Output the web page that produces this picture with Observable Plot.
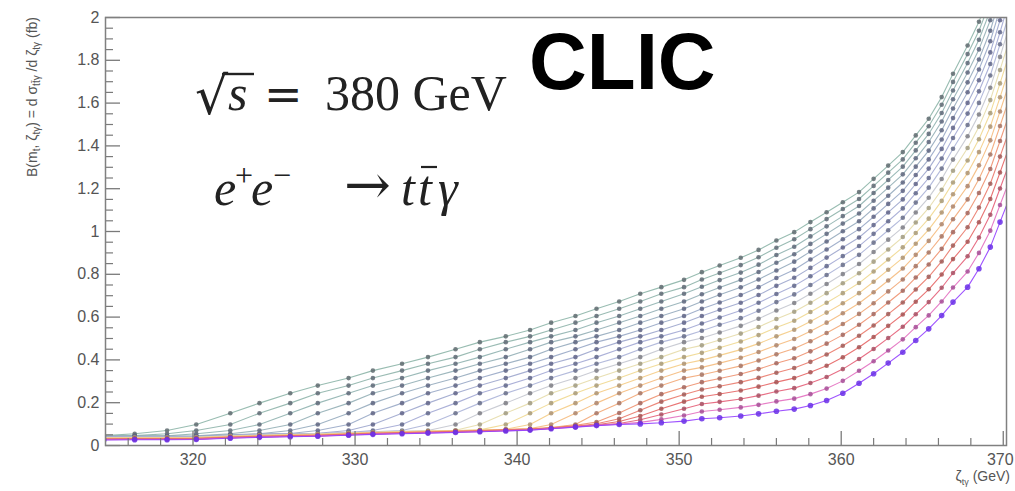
<!DOCTYPE html>
<html><head><meta charset="utf-8">
<script src="https://cdn.jsdelivr.net/npm/d3@7"></script>
<script src="https://cdn.jsdelivr.net/npm/@observablehq/plot@0.6"></script>
<style>html,body{margin:0;padding:0;background:#fff;} #chart{position:relative;width:1015px;height:491px;overflow:hidden;}</style>
</head><body><div id="chart"></div>
<script>
// x grid shared by all curves (zeta_t-gamma, GeV)
const zeta = [314.5,316.4,318.4,320.2,322.3,324.1,326.0,327.7,329.6,331.1,332.9,334.5,336.2,337.7,339.3,340.8,342.1,343.6,344.9,346.3,347.6,348.9,350.3,351.4,352.5,353.8,354.9,356.0,357.1,358.1,359.1,360.1,361.1,362.0,362.9,363.8,364.6,365.4,366.2,366.9,367.8,368.5,369.2,369.8,370.4];

// B(m_t, zeta) values (fb), one array per curve, top curve first
const curve01 = [.046,.055,.070,.098,.151,.198,.244,.280,.315,.350,.382,.413,.450,.483,.510,.540,.574,.605,.639,.673,.709,.740,.774,.810,.841,.877,.914,.958,.997,1.044,1.090,1.137,1.184,1.246,1.308,1.371,1.449,1.527,1.628,1.737,1.869,1.980,2.120,2.280,2.450];
const curve02 = [.045,.046,.055,.070,.098,.151,.198,.244,.280,.315,.350,.382,.413,.450,.483,.510,.540,.574,.605,.639,.673,.709,.740,.776,.806,.843,.880,.924,.964,1.011,1.058,1.105,1.152,1.213,1.275,1.337,1.415,1.492,1.592,1.699,1.829,1.938,2.077,2.236,2.404];
const curve03 = [.044,.045,.045,.055,.070,.098,.151,.198,.244,.280,.315,.350,.382,.413,.450,.483,.510,.540,.574,.605,.639,.673,.709,.742,.773,.808,.845,.890,.929,.977,1.024,1.072,1.119,1.180,1.241,1.303,1.379,1.456,1.554,1.659,1.787,1.896,2.033,2.189,2.356];
const curve04 = [.043,.044,.044,.045,.055,.070,.098,.151,.198,.244,.280,.315,.350,.382,.413,.450,.483,.510,.540,.574,.605,.639,.673,.707,.738,.774,.811,.854,.894,.942,.989,1.037,1.084,1.144,1.205,1.267,1.342,1.418,1.514,1.618,1.743,1.851,1.987,2.142,2.306];
const curve05 = [.042,.043,.043,.044,.050,.055,.070,.098,.151,.198,.244,.280,.315,.350,.382,.413,.450,.483,.510,.540,.574,.605,.639,.673,.704,.739,.776,.818,.859,.906,.953,1.001,1.048,1.108,1.167,1.229,1.303,1.378,1.473,1.575,1.697,1.804,1.938,2.092,2.254];
const curve06 = [.041,.042,.042,.043,.049,.053,.056,.070,.098,.151,.198,.244,.280,.315,.350,.382,.413,.450,.483,.510,.540,.574,.605,.639,.668,.703,.740,.783,.821,.869,.916,.964,1.011,1.069,1.129,1.190,1.264,1.337,1.430,1.530,1.651,1.757,1.889,2.041,2.201];
const curve07 = [.040,.041,.041,.042,.048,.052,.055,.057,.070,.098,.151,.198,.244,.280,.315,.350,.382,.413,.450,.483,.510,.540,.574,.605,.634,.667,.703,.746,.784,.830,.878,.925,.972,1.030,1.089,1.150,1.222,1.294,1.386,1.484,1.601,1.707,1.837,1.987,2.144];
const curve08 = [.039,.040,.040,.041,.047,.051,.054,.056,.061,.070,.098,.151,.198,.244,.280,.315,.350,.382,.413,.450,.483,.510,.540,.570,.598,.631,.667,.708,.746,.791,.838,.885,.932,.989,1.048,1.108,1.179,1.250,1.341,1.437,1.551,1.655,1.783,1.931,2.087];
const curve09 = [.038,.039,.039,.040,.046,.050,.053,.055,.060,.064,.070,.098,.151,.198,.244,.280,.315,.350,.382,.413,.450,.483,.510,.536,.564,.595,.630,.670,.706,.750,.797,.844,.891,.948,1.006,1.064,1.135,1.205,1.294,1.387,1.498,1.601,1.729,1.875,2.027];
const curve10 = [.037,.038,.038,.039,.045,.049,.052,.054,.059,.063,.066,.070,.098,.151,.198,.244,.280,.315,.350,.382,.413,.450,.483,.502,.528,.559,.592,.631,.666,.709,.755,.801,.848,.904,.962,1.019,1.089,1.158,1.245,1.336,1.445,1.547,1.672,1.816,1.966];
const curve11 = [.036,.037,.037,.038,.044,.048,.051,.053,.058,.062,.065,.068,.071,.098,.151,.198,.244,.280,.315,.350,.382,.413,.450,.468,.493,.523,.554,.591,.625,.667,.712,.758,.805,.859,.916,.974,1.042,1.110,1.195,1.284,1.390,1.490,1.614,1.755,1.902];
const curve12 = [.035,.036,.036,.037,.043,.047,.050,.052,.057,.061,.064,.067,.070,.073,.098,.151,.198,.244,.280,.315,.350,.382,.413,.433,.457,.486,.516,.551,.583,.624,.667,.712,.759,.813,.869,.926,.993,1.060,1.143,1.229,1.332,1.431,1.553,1.692,1.837];
const curve13 = [.034,.035,.035,.036,.042,.046,.049,.051,.056,.060,.063,.066,.069,.072,.076,.098,.151,.198,.244,.280,.315,.350,.382,.399,.421,.448,.476,.510,.541,.579,.621,.665,.712,.765,.821,.877,.943,1.009,1.089,1.174,1.273,1.371,1.490,1.627,1.769];
const curve14 = [.033,.034,.034,.035,.041,.045,.048,.050,.055,.059,.062,.065,.068,.071,.075,.079,.098,.151,.198,.244,.280,.315,.350,.365,.385,.410,.437,.468,.498,.534,.574,.618,.665,.716,.771,.827,.891,.956,1.034,1.117,1.212,1.309,1.426,1.561,1.700];
const curve15 = [.032,.033,.033,.034,.040,.044,.047,.049,.054,.058,.061,.064,.067,.070,.074,.078,.084,.098,.151,.198,.244,.280,.315,.331,.349,.372,.397,.426,.453,.487,.526,.568,.615,.665,.720,.776,.838,.902,.977,1.057,1.150,1.245,1.360,1.493,1.629];
const curve16 = [.031,.032,.032,.033,.039,.043,.046,.048,.053,.057,.060,.063,.066,.069,.073,.077,.083,.094,.110,.152,.198,.240,.272,.296,.313,.334,.357,.384,.408,.440,.476,.517,.564,.614,.668,.723,.785,.846,.919,.997,1.086,1.180,1.292,1.423,1.556];
const curve17 = [.030,.031,.031,.032,.038,.042,.045,.047,.052,.056,.059,.062,.065,.068,.072,.076,.082,.090,.102,.125,.165,.205,.238,.262,.277,.296,.316,.340,.362,.391,.425,.466,.513,.561,.614,.668,.729,.788,.860,.934,1.020,1.112,1.223,1.350,1.480];
const curve18 = [.029,.030,.030,.031,.037,.041,.044,.046,.051,.055,.058,.061,.064,.067,.071,.075,.081,.089,.097,.112,.138,.172,.205,.228,.241,.257,.275,.296,.315,.342,.373,.412,.459,.507,.559,.612,.672,.730,.799,.871,.952,1.043,1.152,1.276,1.403];
const curve19 = [.028,.029,.029,.030,.036,.040,.043,.045,.050,.054,.057,.060,.063,.066,.070,.074,.080,.088,.095,.103,.120,.145,.172,.194,.204,.217,.233,.252,.268,.292,.320,.357,.404,.451,.502,.555,.613,.670,.737,.806,.884,.972,1.078,1.201,1.324];
const curve20 = [.027,.028,.028,.029,.035,.039,.042,.044,.049,.053,.056,.059,.062,.065,.069,.073,.079,.087,.094,.100,.108,.122,.140,.159,.167,.178,.190,.206,.219,.240,.266,.302,.349,.394,.444,.496,.553,.608,.673,.738,.813,.900,1.004,1.124,1.243];
const curve21 = [.026,.027,.027,.028,.034,.038,.041,.043,.048,.052,.055,.058,.061,.064,.068,.072,.078,.086,.093,.098,.101,.106,.114,.125,.130,.138,.148,.160,.170,.187,.210,.244,.291,.335,.385,.436,.491,.545,.607,.670,.740,.826,.927,1.044,1.160];

// axis ticks and labels
const yMajorTicks = [0,0.2,0.4,0.6,0.8,1,1.2,1.4,1.6,1.8,2];
const yTickLabels = ["0","0.2","0.4","0.6","0.8","1","1.2","1.4","1.6","1.8","2"];
const yMinorTicks = [0.05,0.1,0.15,0.25,0.3,0.35,0.45,0.5,0.55,0.65,0.7,0.75,0.85,0.9,0.95,1.05,1.1,1.15,1.25,1.3,1.35,1.45,1.5,1.55,1.65,1.7,1.75,1.85,1.9,1.95];
const xMajorTicks = [320,330,340,350,360,370];
const xTickLabels = ["320","330","340","350","360","370"];
const xMinorTicks = [316,318,322,324,326,328,332,334,336,338,342,344,346,348,352,354,356,358,362,364,366,368];

const curves = [curve01,curve02,curve03,curve04,curve05,curve06,curve07,curve08,curve09,curve10,curve11,curve12,curve13,curve14,curve15,curve16,curve17,curve18,curve19,curve20,curve21];

// styles
const lineColors = ["#8db5a8","#8fb4ab","#90b2b0","#93afb6","#96abbe","#99a8c6","#9da6cd","#a3a9d4","#acb4d8","#c4c6cf","#e6dcaa","#f0d890","#f5cc85","#f5bb7e","#f2a777","#ee9170","#ea7a6b","#e56565","#e45f78","#e36fc0","#9440ff"];
const dotColors = ["#5f6b70","#5f6a74","#5e6878","#5e667c","#5e6580","#5f6484","#606488","#62678a","#676d88","#7c7d84","#a09a80","#a89a78","#ad9372","#ad856c","#a67464","#a2665e","#a05c58","#a65454","#a85064","#a64e96","#6a2fe8"];

const W = 1015, H = 491, mL = 105, mR = 9, mT = 17, mB = 46;
const xDom = [314.6, 370.2], yDom = [0, 2];
const xPerPx = (xDom[1] - xDom[0]) / (W - mL - mR);
const yPerPx = (yDom[1] - yDom[0]) / (H - mT - mB);

const marks = [];
curves.forEach((vals, k) => {
  const rows = zeta.map((z, j) => ({zeta: z, value: vals[j]}));
  marks.push(Plot.line(rows, {x: "zeta", y: "value", stroke: lineColors[k], strokeWidth: 1.1, strokeOpacity: 0.9, clip: true}));
  marks.push(Plot.dot(rows, {x: "zeta", y: "value", r: k === 20 ? 2.8 : 2.3, fill: dotColors[k], fillOpacity: 0.85, stroke: "none", clip: true}));
});
const tickColor = "#7a7a7a";
const lastX = xMajorTicks.length - 1;
marks.push(
  Plot.ruleY(yMinorTicks, {y: d => d, x1: xDom[0], x2: xDom[0] + 8 * xPerPx, stroke: tickColor, strokeWidth: 1.2}),
  Plot.ruleY(yMajorTicks, {y: d => d, x1: xDom[0], x2: xDom[0] + 15 * xPerPx, stroke: tickColor, strokeWidth: 1.3}),
  Plot.ruleX(xMinorTicks, {x: d => d, y1: 0, y2: 7 * yPerPx, stroke: tickColor, strokeWidth: 1.2}),
  Plot.ruleX(xMajorTicks, {x: d => d, y1: 0, y2: 14 * yPerPx, stroke: tickColor, strokeWidth: 1.3}),
  Plot.text(yMajorTicks, {x: xDom[0], y: d => d, text: (d, i) => yTickLabels[i], textAnchor: "end", dx: -6, fontSize: 16, fill: "#555"}),
  Plot.text(xMajorTicks.slice(0, lastX), {x: d => d, y: yDom[0], text: (d, i) => xTickLabels[i], dy: 14, fontSize: 16, fill: "#555"}),
  Plot.text(xMajorTicks.slice(lastX), {x: d => d, y: yDom[0], text: () => xTickLabels[lastX], dy: 14, dx: -3, fontSize: 16, fill: "#555"}),
  Plot.frame({stroke: "#808080", strokeWidth: 1.5})
);

const plot = Plot.plot({
  width: W, height: H,
  marginLeft: mL, marginRight: mR, marginTop: mT, marginBottom: mB,
  x: {domain: xDom, axis: null},
  y: {domain: yDom, axis: null},
  style: {background: "#fff", fontFamily: "Liberation Sans, Arial, sans-serif", overflow: "visible"},
  marks
});
document.getElementById("chart").appendChild(plot);

// annotations
const svg = d3.select(plot);
const g = svg.append("g").attr("text-anchor", "start");
const serif = "Liberation Serif, 'Times New Roman', serif";
const ink = "#222";

// CLIC
g.append("text").attr("x", 529).attr("y", 89).attr("text-anchor", "start")
  .attr("font-family", "Liberation Sans, Arial, sans-serif").attr("font-weight", "bold")
  .attr("font-size", 80).attr("fill", "#000").text("CLIC");

// sqrt(s) = 380 GeV
const tx = (x, y, s, txt, fam, italic) => g.append("text").attr("x", x).attr("y", y).attr("text-anchor", "start")
  .attr("font-family", fam).attr("font-style", italic ? "italic" : "normal")
  .attr("font-size", s).attr("fill", ink).text(txt);
tx(195, 114, 52, "√", "DejaVu Serif, serif", false);
g.append("line").attr("x1", 222).attr("x2", 254).attr("y1", 74).attr("y2", 74)
  .attr("stroke", ink).attr("stroke-width", 2.4);
tx(228, 110, 50, "s", serif, true);
tx(264, 110, 46, "=", "DejaVu Serif, serif", false);
tx(325, 110, 50, "380 GeV", serif, false);

// e+ e- -> t tbar gamma
tx(214, 205, 50, "e", serif, true);
tx(235, 186, 32, "+", serif, false);
tx(251, 205, 50, "e", serif, true);
tx(273, 186, 32, "−", serif, false);
tx(344, 204, 56, "→", "DejaVu Serif, serif", false);
tx(401, 205, 50, "t", serif, true);
tx(418, 205, 50, "t", serif, true);
g.append("line").attr("x1", 421).attr("x2", 437).attr("y1", 167).attr("y2", 167).attr("stroke", ink).attr("stroke-width", 2.2);
tx(438, 205, 50, "γ", serif, true);

// y-axis title (rotated)
const yt = g.append("text").attr("transform", "translate(37,17) rotate(-90)").attr("text-anchor", "end")
  .attr("font-family", "Liberation Sans, Arial, sans-serif").attr("font-size", 14).attr("fill", "#555");
yt.append("tspan").text("B(m");
yt.append("tspan").attr("font-size", 10).attr("dy", 3).text("t");
yt.append("tspan").attr("dy", -3).text(", ζ");
yt.append("tspan").attr("font-size", 10).attr("dy", 3).text("tγ");
yt.append("tspan").attr("dy", -3).text(") = d σ");
yt.append("tspan").attr("font-size", 10).attr("dy", 3).text("tt̄γ");
yt.append("tspan").attr("dy", -3).text(" /d ζ");
yt.append("tspan").attr("font-size", 10).attr("dy", 3).text("tγ");
yt.append("tspan").attr("dy", -3).text(" (fb)");

// x-axis title
const xt = g.append("text").attr("x", 1010).attr("y", 481).attr("text-anchor", "end")
  .attr("font-family", "Liberation Sans, Arial, sans-serif").attr("font-size", 14).attr("fill", "#555");
xt.append("tspan").text("ζ");
xt.append("tspan").attr("font-size", 9).attr("dy", 4).text("tγ");
xt.append("tspan").attr("dy", -4).text(" (GeV)");
</script>
</body></html>
